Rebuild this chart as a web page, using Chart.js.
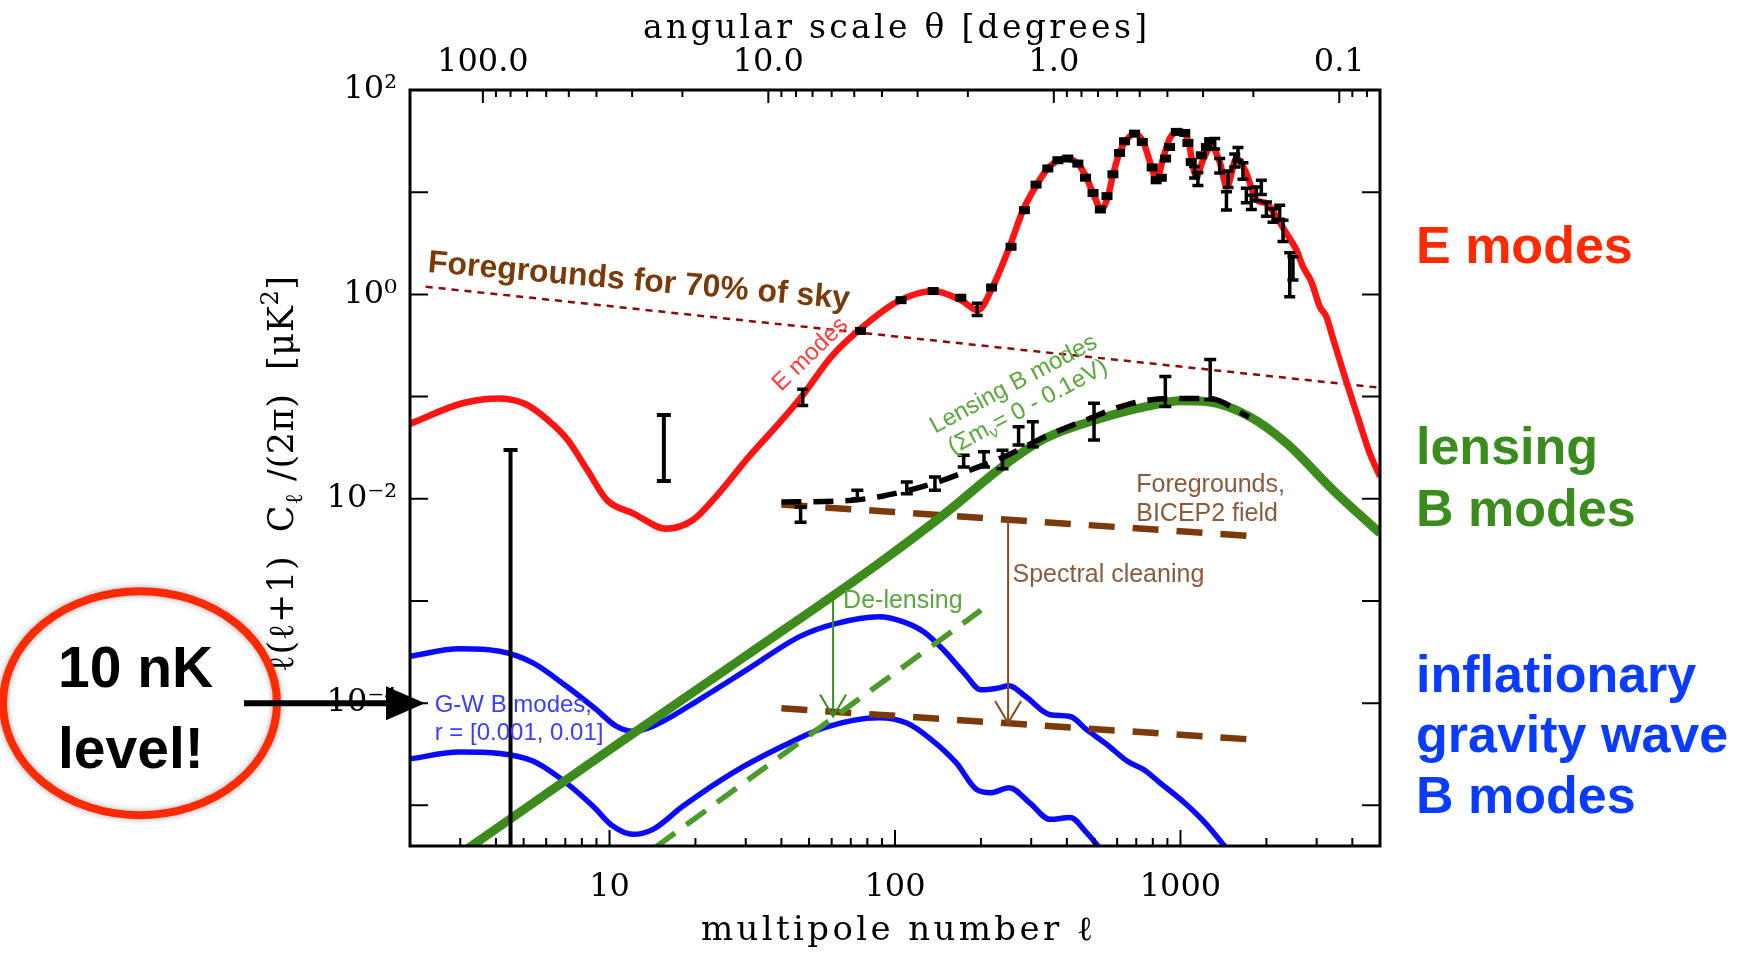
<!DOCTYPE html>
<html>
<head>
<meta charset="utf-8">
<title>CMB polarization spectra</title>
<script src="https://cdn.jsdelivr.net/npm/chart.js@4.4.1/dist/chart.umd.min.js"></script>
<style>
  html, body { margin: 0; padding: 0; background: #fff; overflow: hidden; }
  canvas { display: block; }
</style>
</head>
<body>
<canvas id="cmbChart" width="1742" height="953"></canvas>
<script>
// ---- axis ticks ----
const xTickVals = [10, 100, 1000];
const xTickLabels = ['10', '100', '1000'];
const ELL_PER_DEG = 360;               // top axis: theta = 360 / ell
const thetaVals = [100, 10, 1, 0.1];
const thetaLabels = ['100.0', '10.0', '1.0', '0.1'];
const thetaMinor = [90, 80, 70, 60, 50, 40, 30, 20, 9, 8, 7, 6, 5, 4, 3, 2,
                    0.9, 0.8, 0.7, 0.6, 0.5, 0.4, 0.3, 0.2, 0.09, 0.08];
const yTickVals = [1e-4, 1e-2, 1, 100];
const yTickLabels = ['10\u207B\u2074', '10\u207B\u00B2', '10\u2070', '10\u00B2'];

// ---- E-mode theory curve ----
const eTheoryEll = [2, 3.05, 4.08, 5.05, 6.08, 7.14, 8.37, 9.8, 12.1, 15.8,
  19.6, 23.6, 30.8, 40.2, 47.1, 59.8, 75, 102, 136, 170,
  195, 220, 252, 281, 313, 343, 393, 437, 468, 500,
  528, 557, 580, 613, 646, 691, 740, 792, 824, 869,
  917, 994, 1063, 1136, 1199, 1283, 1372, 1455, 1570, 1702,
  1846, 2000, 2168, 2350, 2548, 2687, 2874, 3076, 3245, 3423,
  3811, 4246, 4602, 5000];
const eTheoryVal = [0.054, 0.086, 0.096, 0.085, 0.059, 0.0376, 0.019, 0.0097, 0.0072, 0.0051,
  0.0062, 0.0105, 0.0258, 0.059, 0.10, 0.245, 0.45, 0.85, 1.08, 0.88,
  0.70, 1.19, 2.93, 6.68, 11.7, 17.1, 21.4, 19.1, 14.0, 9.0,
  6.8, 9.0, 14.7, 24.8, 32.3, 37.6, 31.1, 17.7, 13.1, 21.4,
  33.6, 39.8, 32.3, 14.1, 20.6, 27.8, 19.8, 11.3, 21.4, 15.3,
  8.4, 7.8, 5.75, 3.96, 2.72, 1.87, 1.33, 0.76, 0.605, 0.37,
  0.14, 0.055, 0.028, 0.0165];

// ---- E-mode measurements (value +/- err) ----
const eDataEll = [47.5, 75.7, 105, 136, 170, 194, 218, 255, 284, 312,
  343, 372, 403, 437, 465, 494, 524, 553, 580, 612,
  637, 691, 735, 796, 822, 857, 887, 916, 967, 1035,
  1062, 1091, 1121, 1151, 1183, 1233, 1265, 1318, 1372, 1449,
  1468, 1549, 1590, 1655, 1701, 1771, 1844, 1920, 2000, 2110,
  2226, 2287, 2414, 2478];
const eDataVal = [0.10, 0.44, 0.88, 1.08, 0.93, 0.72, 1.17, 2.93, 6.68, 11.9,
  17.1, 20.6, 21.4, 19.1, 13.9, 9.86, 6.79, 9.17, 15.0, 24.3,
  31.6, 37.5, 31.1, 17.5, 13.1, 13.9, 21.4, 27.8, 39, 38.1,
  30.4, 19.8, 15.8, 13.6, 23.1, 27.8, 31.8, 30, 18.4, 8.4,
  13.6, 20.6, 23.9, 16.4, 9.4, 8.06, 9.73, 11.3, 6.93, 5.97,
  6.44, 4.3, 1.75, 1.86];
const eDataErr = [0.018, 0.03, 0.06, 0.07, 0.07, 0.10, 0.08, 0.2, 0.45, 0.8,
  1.1, 1.4, 1.4, 1.3, 1.0, 0.7, 0.5, 0.6, 1.0, 1.6,
  2.1, 2.5, 2.1, 1.2, 0.9, 1.3, 1.5, 1.9, 2.6, 2.6,
  2.4, 2.0, 2.0, 2.0, 2.5, 3.0, 3.5, 3.5, 3.0, 1.7,
  2.5, 3.0, 3.5, 3.0, 1.5, 1.3, 1.5, 1.8, 1.1, 0.9,
  1.0, 1.0, 0.8, 0.48];

// ---- large-scale upper limits ----
const bigBarEll = [4.5, 15.5];
const bigBarLo = [1e-6, 0.0149];
const bigBarHi = [0.030, 0.066];

// ---- lensing B modes ----
const lensTheoryEll = [3.2, 10, 30, 88, 150, 240, 336, 514, 763, 1000, 1250, 1740, 2350, 3420, 5000];
const lensTheoryVal = [3.8e-6, 3.5e-5, 2.9e-4, 0.00235, 0.0072, 0.021, 0.039, 0.060, 0.080, 0.091, 0.089, 0.064, 0.035, 0.0122, 0.0046];
const lensMeasEll = [40, 65, 90, 138, 185, 241, 336, 466, 647, 899, 1250, 1740];
const lensMeasVal = [0.0093, 0.0095, 0.0106, 0.0143, 0.0193, 0.0257, 0.0405, 0.059, 0.083, 0.096, 0.096, 0.063];
const lensBarEll = [46.7, 73.8, 110, 138, 174, 205, 238, 271, 304, 498, 885, 1271];
const lensBarLo = [0.0059, 0.0100, 0.0112, 0.0121, 0.0205, 0.0205, 0.0197, 0.0335, 0.0322, 0.0375, 0.080, 0.093];
const lensBarHi = [0.0083, 0.0121, 0.0146, 0.0163, 0.0267, 0.0288, 0.0299, 0.0507, 0.0567, 0.0859, 0.157, 0.23];
const delensEll = [14.5, 200];
const delensVal = [3.9e-6, 8.1e-4];

// ---- gravity-wave B modes ----
const gwHiEll = [2, 2.98, 4.12, 5.39, 7.05, 8.98, 10.55, 12.1, 14.2, 20.7,
  30.9, 46.5, 62, 88, 107, 126, 148, 175, 200, 228,
  251, 287, 349, 411, 469, 553, 652, 743, 848, 1033, 1218, 1437];
const gwHiVal = [2.88e-4, 3.40e-4, 3.22e-4, 2.48e-4, 1.47e-4, 8.67e-5, 5.96e-5, 5.32e-5, 5.96e-5, 1.09e-4,
  2.2e-4, 4.5e-4, 6.0e-4, 7.0e-4, 6.24e-4, 4.99e-4, 3.31e-4, 1.96e-4, 1.35e-4, 1.40e-4,
  1.48e-4, 1.16e-4, 7.7e-5, 7.4e-5, 5.5e-5, 3.93e-5, 2.70e-5, 2.24e-5, 1.66e-5, 1.06e-5, 6.78e-6, 3.9e-6];
const gwLoEll = [2, 2.98, 4.12, 5.39, 7.05, 8.74, 10.27, 12.1, 14.2, 18.1,
  27, 40.5, 57, 88, 110, 134, 164, 193, 217, 251, 296, 349, 411, 469, 518];
const gwLoVal = [2.85e-5, 3.32e-5, 3.22e-5, 2.71e-5, 1.66e-5, 9.84e-6, 6.27e-6, 5.2e-6, 5.82e-6, 9.84e-6,
  2.08e-5, 3.8e-5, 5.8e-5, 7.2e-5, 6.38e-5, 4.4e-5, 2.6e-5, 1.43e-5, 1.33e-5, 1.49e-5,
  1.06e-5, 7.3e-6, 7.6e-6, 5.4e-6, 3.9e-6];

// ---- foregrounds ----
const fgEll = [40, 1800];
const fgBicepVal = [0.0088, 0.0043];
const fgCleanVal = [8.9e-5, 4.4e-5];
const skyEll = [2.27, 5000];
const skyVal = [1.19, 0.122];

const serif = "'DejaVu Serif', 'Liberation Serif', serif";
const sans = "'Liberation Sans', Arial, Helvetica, sans-serif";

const pts = (xs, ys) => xs.map((x, i) => ({ x: x, y: ys[i] }));

function curve(label, xs, ys, color, width, dash) {
    return {
        label: label,
        data: pts(xs, ys),
        borderColor: color,
        borderWidth: width,
        borderDash: dash || [],
        borderCapStyle: 'butt',
        borderJoinStyle: 'round',
        pointRadius: 0,
        fill: false,
        cubicInterpolationMode: 'monotone'
    };
}

function errBar(ctx, X, y1, y2, cap, lw) {
    ctx.lineWidth = lw;
    ctx.beginPath();
    ctx.moveTo(X, y1); ctx.lineTo(X, y2);
    ctx.moveTo(X - cap, y1); ctx.lineTo(X + cap, y1);
    ctx.moveTo(X - cap, y2); ctx.lineTo(X + cap, y2);
    ctx.stroke();
}

// text made of segments, optionally spread to a given width
function richText(ctx, segs, x, y, opts) {
    opts = opts || {};
    ctx.save();
    ctx.translate(x, y);
    ctx.rotate(opts.angle || 0);
    ctx.textAlign = 'left';
    ctx.textBaseline = 'alphabetic';
    ctx.fillStyle = opts.color || '#000';
    const chars = [];
    segs.forEach(s => {
        ctx.font = s.f;
        for (const c of s.t) chars.push({ c: c, f: s.f, dy: s.dy || 0, w: ctx.measureText(c).width });
    });
    const natural = chars.reduce((t, c) => t + c.w, 0);
    const width = opts.width || natural;
    const gap = opts.width ? (width - natural) / (chars.length - 1) : 0;
    let cx = opts.align === 'left' ? 0 : -width / 2;
    chars.forEach(c => {
        ctx.font = c.f;
        ctx.fillText(c.c, cx, c.dy);
        cx += c.w + gap;
    });
    ctx.restore();
}

function label(ctx, text, x, y, font, color, angle) {
    ctx.save();
    ctx.translate(x, y);
    ctx.rotate(angle || 0);
    ctx.font = font;
    ctx.fillStyle = color;
    ctx.textAlign = 'left';
    ctx.textBaseline = 'alphabetic';
    ctx.fillText(text, 0, 0);
    ctx.restore();
}

function arrowDown(ctx, X, yTop, yTip, color) {
    ctx.strokeStyle = color;
    ctx.lineWidth = 2;
    ctx.beginPath();
    ctx.moveTo(X, yTop); ctx.lineTo(X, yTip);
    ctx.moveTo(X - 13, yTip - 22); ctx.lineTo(X, yTip); ctx.lineTo(X + 13, yTip - 22);
    ctx.stroke();
}

const overlay = {
    id: 'overlay',
    afterDatasetsDraw(chart) {
        const { ctx, chartArea: a } = chart;
        const px = v => chart.scales.x.getPixelForValue(v);
        const py = v => chart.scales.y.getPixelForValue(v);
        ctx.save();
        ctx.beginPath();
        ctx.rect(a.left, a.top, a.right - a.left, a.bottom - a.top);
        ctx.clip();
        ctx.strokeStyle = '#000';
        ctx.fillStyle = '#000';
        eDataEll.forEach((l, i) => {
            const X = px(l);
            const yh = py(eDataVal[i] + eDataErr[i]);
            const yl = py(eDataVal[i] - eDataErr[i]);
            if (yl - yh < 10) ctx.fillRect(X - 5.5, (yh + yl) / 2 - 4, 11, 8);
            else errBar(ctx, X, yh, yl, 5.5, 3.5);
        });
        lensBarEll.forEach((l, i) => errBar(ctx, px(l), py(lensBarHi[i]), py(lensBarLo[i]), 6, 3.5));
        bigBarEll.forEach((l, i) => errBar(ctx, px(l), py(bigBarHi[i]), py(bigBarLo[i]), 7, 4));
        ctx.restore();
    },
    afterDraw(chart) {
        const { ctx, chartArea: a } = chart;
        const px = v => chart.scales.x.getPixelForValue(v);
        const py = v => chart.scales.y.getPixelForValue(v);
        ctx.save();

        // frame + inward ticks
        ctx.strokeStyle = '#000';
        ctx.lineWidth = 2;
        ctx.beginPath();
        for (let d = 1; d <= 1000; d *= 10) {
            for (let m = 1; m <= 9; m++) {
                const v = m * d;
                if (v < 2 || v > 5000) continue;
                const len = m === 1 ? 16 : 8;
                ctx.moveTo(px(v), a.bottom); ctx.lineTo(px(v), a.bottom - len);
            }
        }
        thetaVals.forEach(t => { ctx.moveTo(px(ELL_PER_DEG / t), a.top); ctx.lineTo(px(ELL_PER_DEG / t), a.top + 13); });
        thetaMinor.forEach(t => { ctx.moveTo(px(ELL_PER_DEG / t), a.top); ctx.lineTo(px(ELL_PER_DEG / t), a.top + 7); });
        for (let e = -5; e <= 2; e++) {
            const Y = py(Math.pow(10, e));
            ctx.moveTo(a.left, Y); ctx.lineTo(a.left + 18, Y);
            ctx.moveTo(a.right, Y); ctx.lineTo(a.right - 18, Y);
        }
        ctx.stroke();
        ctx.lineWidth = 3;
        ctx.strokeRect(a.left, a.top, a.right - a.left, a.bottom - a.top);

        // axis titles
        const mid = (a.left + a.right) / 2;
        richText(ctx, [{ t: 'angular scale \u03B8 [degrees]', f: '33px ' + serif }], mid, 38, { width: 504 });
        richText(ctx, [{ t: 'multipole number \u2113', f: '34px ' + serif }], mid + 2, 940, { width: 392 });
        richText(ctx, [
            { t: '\u2113(\u2113+1)  C', f: '35px ' + serif },
            { t: '\u2113', f: '24px ' + serif, dy: 9 },
            { t: ' /(2\u03C0)  [\u03BCK', f: '35px ' + serif },
            { t: '2', f: '24px ' + serif, dy: -15 },
            { t: ']', f: '35px ' + serif }
        ], 293, 474, { width: 396, angle: -Math.PI / 2 });

        // in-plot annotations
        label(ctx, 'Foregrounds for 70% of sky', px(2.3), py(1.66), 'bold 32px ' + sans, '#7a3a0a', 0.087);

        ctx.save();
        ctx.translate(px(53.6), py(0.218));
        ctx.rotate(-0.77);
        ctx.font = '24px ' + sans;
        ctx.fillStyle = '#ff3c3c';
        ctx.textAlign = 'center';
        ctx.fillText('E modes', 0, -4);
        ctx.restore();

        const lx = px(138), ly = py(0.0432);
        label(ctx, 'Lensing B modes', lx, ly, '24px ' + sans, '#5aa83c', -0.49);
        ctx.save();
        ctx.translate(lx, ly);
        ctx.rotate(-0.49);
        richText(ctx, [
            { t: '(\u03A3m', f: '24px ' + sans },
            { t: '\u03BD', f: '16px ' + sans, dy: 5 },
            { t: '= 0 - 0.1eV)', f: '24px ' + sans }
        ], 6, 27, { align: 'left', color: '#5aa83c' });
        ctx.restore();

        label(ctx, 'Foregrounds,', px(700), py(0.0117), '25px ' + sans, '#8c5a3c');
        label(ctx, 'BICEP2 field', px(700), py(0.0117) + 29, '25px ' + sans, '#8c5a3c');
        label(ctx, 'Spectral cleaning', px(258), py(1.55e-3), '25px ' + sans, '#8c5a3c');
        label(ctx, 'De-lensing', px(65.8), py(8.6e-4), '25px ' + sans, '#5aa83c');
        label(ctx, 'G-W B modes,', px(2.44), py(8.1e-5), '24px ' + sans, '#3c3cff');
        label(ctx, 'r = [0.001, 0.01]', px(2.44), py(8.1e-5) + 28, '24px ' + sans, '#3c3cff');

        arrowDown(ctx, px(60.7), py(1.14e-3), py(7.4e-5), '#3c8c1c');
        arrowDown(ctx, px(249), py(0.00623), py(6.4e-5), '#8a4a20');

        // right-hand legend text
        const rx = a.right + 36;
        label(ctx, 'E modes', rx, 263, 'bold 52px ' + sans, '#ff2a00');
        label(ctx, 'lensing', rx, 464, 'bold 52px ' + sans, '#3a8c1c');
        label(ctx, 'B modes', rx, 526, 'bold 52px ' + sans, '#3a8c1c');
        label(ctx, 'inflationary', rx, 692, 'bold 52px ' + sans, '#0a3cff');
        label(ctx, 'gravity wave', rx, 752, 'bold 52px ' + sans, '#0a3cff');
        label(ctx, 'B modes', rx, 813, 'bold 52px ' + sans, '#0a3cff');

        // 10 nK callout
        const yLevel = py(1e-4);
        ctx.save();
        ctx.beginPath();
        ctx.ellipse(140, yLevel, 137, 112, 0, 0, Math.PI * 2);
        ctx.fillStyle = '#fff';
        ctx.fill();
        ctx.shadowColor = 'rgba(0,0,0,0.35)';
        ctx.shadowBlur = 6;
        ctx.lineWidth = 8;
        ctx.strokeStyle = '#ff2a00';
        ctx.stroke();
        ctx.restore();
        label(ctx, '10 nK', 58, 687, 'bold 57px ' + sans, '#000');
        label(ctx, 'level!', 58, 768, 'bold 57px ' + sans, '#000');

        ctx.strokeStyle = '#000';
        ctx.fillStyle = '#000';
        ctx.lineWidth = 6;
        ctx.beginPath();
        ctx.moveTo(244, yLevel); ctx.lineTo(392, yLevel);
        ctx.stroke();
        ctx.beginPath();
        ctx.moveTo(386, yLevel - 17); ctx.lineTo(425, yLevel); ctx.lineTo(386, yLevel + 17);
        ctx.closePath();
        ctx.fill();

        ctx.restore();
    }
};

const ctx = document.getElementById('cmbChart').getContext('2d');
const chart = new Chart(ctx, {
    type: 'line',
    data: {
        datasets: [
            curve('lensing B-mode measurements', lensMeasEll, lensMeasVal, '#000', 5.5, [20, 12]),
            curve('E modes', eTheoryEll, eTheoryVal, '#ff1414', 6.5),
            curve('de-lensed', delensEll, delensVal, '#4c9a2a', 5.5, [24, 14]),
            curve('lensing B modes', lensTheoryEll, lensTheoryVal, '#3d8b1d', 9),
            curve('foregrounds BICEP2 field', fgEll, fgBicepVal, '#7a3a0a', 6.5, [26, 18]),
            curve('foregrounds after cleaning', fgEll, fgCleanVal, '#7a3a0a', 6.5, [26, 18]),
            curve('G-W B modes r=0.01', gwHiEll, gwHiVal, '#0a0aff', 5.5),
            curve('G-W B modes r=0.001', gwLoEll, gwLoVal, '#0a0aff', 5.5),
            curve('foregrounds 70% sky', skyEll, skyVal, '#8b0a0a', 2.5, [7, 6])
        ]
    },
    options: {
        responsive: false,
        animation: false,
        devicePixelRatio: 1,
        events: [],
        layout: { padding: { left: 0, right: 362, top: 0, bottom: 0 } },
        plugins: { legend: { display: false }, tooltip: { enabled: false } },
        scales: {
            x: {
                type: 'logarithmic', position: 'bottom', min: 2, max: 5000,
                grid: { display: false, drawTicks: false }, border: { display: false },
                ticks: {
                    autoSkip: false, maxRotation: 0, padding: 22, color: '#000',
                    font: { family: serif, size: 32 },
                    callback: (v, i) => xTickLabels[i]
                },
                afterBuildTicks: s => { s.ticks = xTickVals.map(v => ({ value: v })); },
                afterFit: s => { s.height = 107; }
            },
            x2: {
                type: 'logarithmic', position: 'top', min: 2, max: 5000,
                grid: { display: false, drawTicks: false }, border: { display: false },
                ticks: {
                    autoSkip: false, maxRotation: 0, padding: 8, color: '#000',
                    font: { family: serif, size: 32 },
                    callback: (v, i) => thetaLabels[i]
                },
                afterBuildTicks: s => { s.ticks = thetaVals.map(t => ({ value: ELL_PER_DEG / t })); },
                afterFit: s => { s.height = 90; }
            },
            y: {
                type: 'logarithmic', position: 'left', min: 4e-6, max: 100,
                grid: { display: false, drawTicks: false }, border: { display: false },
                ticks: {
                    autoSkip: false, padding: 13, color: '#000',
                    font: { family: serif, size: 32 },
                    callback: (v, i) => yTickLabels[i]
                },
                afterBuildTicks: s => { s.ticks = yTickVals.map(v => ({ value: v })); },
                afterFit: s => { s.width = 410; }
            }
        }
    },
    plugins: [overlay]
});
</script>
</body>
</html>
